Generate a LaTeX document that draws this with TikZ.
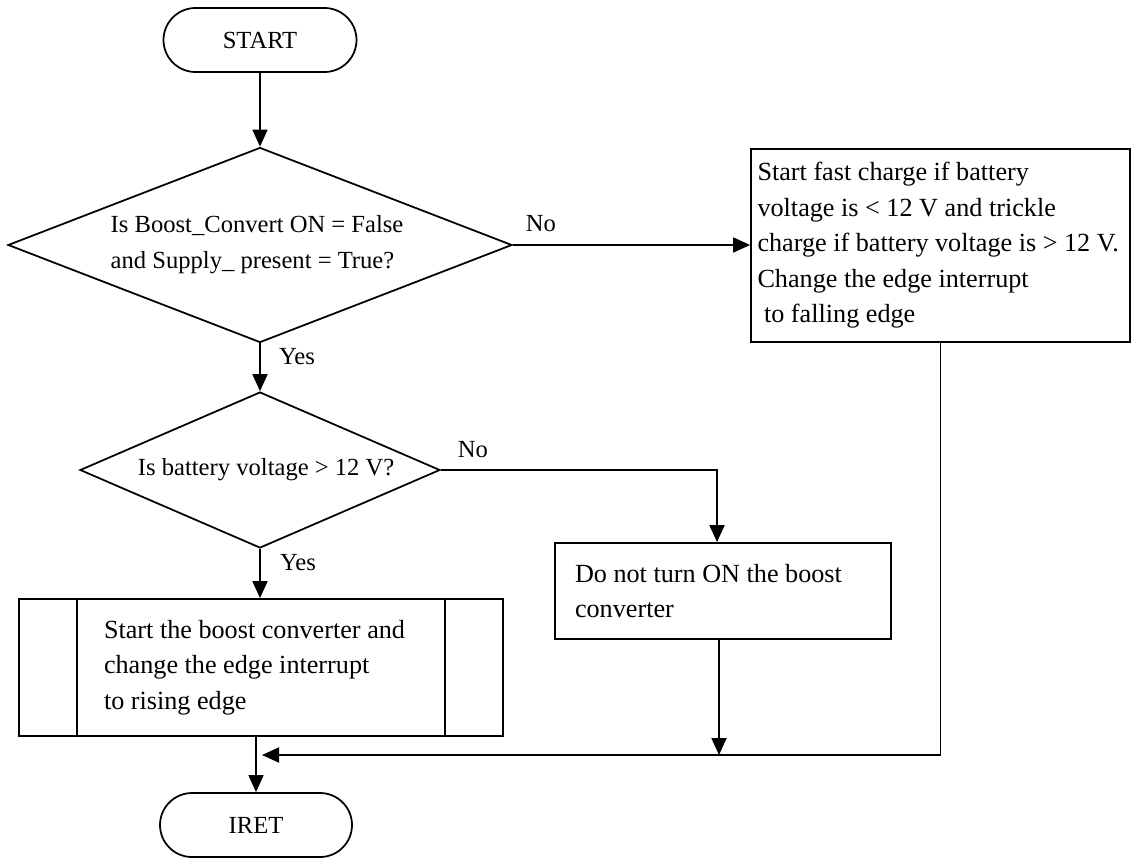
\documentclass[tikz,border=0pt]{standalone}
\usepackage{fontspec}
\setmainfont{Liberation Serif}
\usepackage{tikz}
\usetikzlibrary{shapes.geometric, arrows.meta, positioning}
\newcommand{\flowfont}{\fontsize{14}{20.5}\selectfont}
\newcommand{\boxfont}{\fontsize{14.9}{20.2}\selectfont}

\begin{document}
\begin{tikzpicture}[line width=1pt, every node/.style={font=\flowfont},
  arr/.style={-{Triangle[length=0.34cm, width=0.3cm]}},
  term/.style={draw, rounded corners=0.64cm, minimum width=3.86cm, minimum height=1.28cm},
  decide/.style={draw, diamond, inner sep=0pt, align=flush left},
  proc/.style={draw, rectangle, align=flush left, font=\boxfont}]
  \useasboundingbox (0,0) rectangle (22.64,-17.2);
  \node[term] (start) at (5.2,-0.80) {START};
  \node[decide, minimum width=10.08cm, minimum height=3.9cm, aspect=2.58] (d1) at (5.2,-4.90)
    {Is Boost\_Convert ON = False\\and Supply\_ present = True?\hspace*{0.3cm}};
  \node[proc, text width=7.32cm, inner xsep=0.13cm, minimum height=3.86cm] (r1) at (18.81,-4.91)
    {Start fast charge if battery\\voltage is < 12 V and trickle\\charge if battery voltage is > 12 V.\\Change the edge interrupt\\\ to falling edge};
  \node[decide, minimum width=7.2cm, minimum height=3.12cm, aspect=2.3] (d2) at (5.2,-9.40)
    {\ \ Is battery voltage > 12 V?};
  \node[proc, text width=5.92cm, inner xsep=0.4cm, minimum height=1.92cm] (r2) at (14.46,-11.82)
    {Do not turn ON the boost\\converter};
  \node[proc, text width=6.28cm, inner xsep=1.7cm, minimum height=2.74cm] (p) at (5.22,-13.35)
    {Start the boost converter and\\change the edge interrupt\\to rising edge};
  \draw ([xshift=1.18cm]p.north west) -- ([xshift=1.18cm]p.south west);
  \draw ([xshift=-1.18cm]p.north east) -- ([xshift=-1.18cm]p.south east);
  \node[term, minimum width=3.84cm] (iret) at (5.12,-16.50) {IRET};
  \coordinate (join) at (5.12,-15.10);
  % labels on the branches
  \node (no1) at (10.82,-4.48) {No};
  \node (yes1) at (5.94,-7.13) {Yes};
  \node (no2) at (9.46,-9.0) {No};
  \node (yes2) at (5.96,-11.26) {Yes};
  % connectors
  \draw[arr] (start) -- (d1);
  \draw[arr] (d1.east) -- (d1.east -| r1.west);
  \draw[arr] (d1) -- (d2);
  \draw[arr] (d2.east) -| ([xshift=-0.12cm]r2.north);
  \draw[arr] (d2) -- (d2 |- p.north);
  \draw[arr] (p.south -| iret) -- (iret);
  \draw[arr] (r1.south) |- ([xshift=0.12cm]join);
  \draw[arr] ([xshift=-0.08cm]r2.south) -- ([xshift=-0.08cm]r2.south |- join);
\end{tikzpicture}
\end{document}
